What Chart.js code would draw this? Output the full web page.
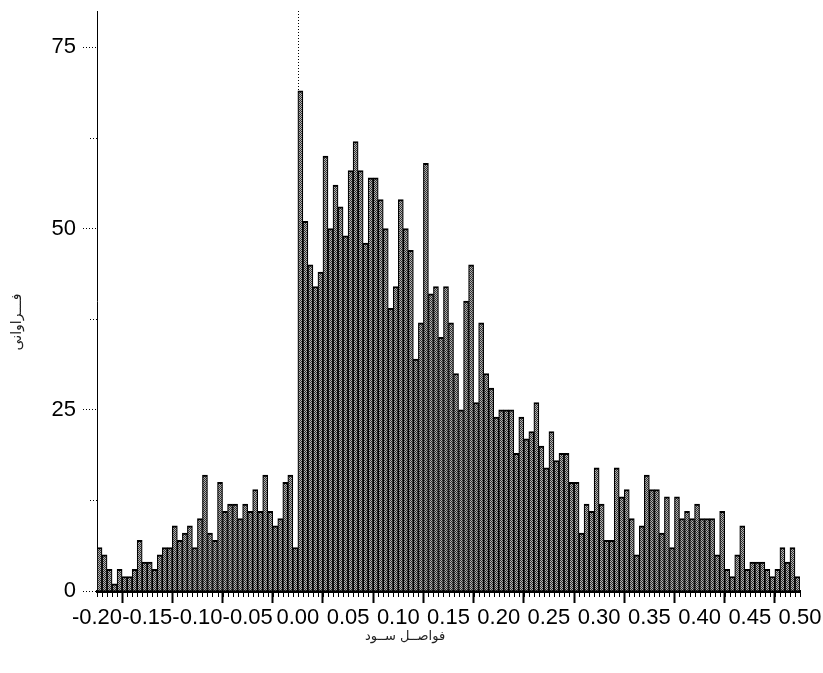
<!DOCTYPE html>
<html>
<head>
<meta charset="utf-8">
<script src="https://cdn.jsdelivr.net/npm/chart.js@4.4.1/dist/chart.umd.min.js"></script>
<style>
  html, body { margin: 0; padding: 0; background: #fff; }
</style>
</head>
<body>
<canvas id="hist" width="823" height="673"></canvas>
<script>
// histogram bins: 0.005 wide, from -0.20 to 0.50
const binStart = -0.20;
const binWidth = 0.005;
const frequency = [
  6, 5, 3, 1, 3, 2, 2, 3, 7, 4, 4, 3, 5, 6, 6, 9, 7, 8, 9, 6,
  10, 16, 8, 7, 15, 11, 12, 12, 10, 12, 11, 14, 11, 16, 11, 9, 10, 15, 16, 6,
  69, 51, 45, 42, 44, 60, 50, 56, 53, 49, 58, 62, 58, 48, 57, 57, 54, 50, 39, 42, 54,
  50, 47, 32, 37, 59, 41, 42, 35, 42, 37, 30, 25, 40, 45, 26, 37, 30, 28, 24, 25, 25,
  25, 19, 24, 21, 22, 26, 20, 17, 22, 18, 19, 19, 15, 15, 8, 12, 11, 17, 12, 7, 7,
  17, 13, 14, 10, 5, 9, 16, 14, 14, 8, 13, 6, 13, 10, 11, 10, 12, 10, 10, 10,
  5, 11, 3, 2, 5, 9, 3, 4, 4, 4, 3, 2, 3, 6, 4, 6, 2
];
const xTickLabels = ['-0.20', '-0.15', '-0.10', '-0.05', '0.00', '0.05', '0.10', '0.15',
  '0.20', '0.25', '0.30', '0.35', '0.40', '0.45', '0.50'];
const yTickLabels = ['0', '25', '50', '75'];
const yMinorTicks = [12.5, 37.5, 62.5];
const xTitle = 'فواصــل ســود';
const yTitle = 'فـــراوانی';

const tickFont = { family: "'Liberation Sans', Arial, sans-serif", size: 22 };

function stipple() {
  let c = document.createElement('canvas');
  c.width = 2; c.height = 2;
  let g = c.getContext('2d');
  g.fillStyle = '#b4b4b4';
  g.fillRect(0, 0, 2, 2);
  g.fillStyle = '#303030';
  g.fillRect(0, 0, 1, 1);
  g.fillRect(1, 1, 1, 1);
  return g.createPattern(c, 'repeat');
}

let points = frequency.map((f, i) => ({ x: binStart + (i + 0.5) * binWidth, y: f }));

// dotted line at zero, behind the bars
let zeroLine = {
  id: 'zeroLine',
  beforeDatasetsDraw(chart) {
    let { ctx, chartArea, scales } = chart;
    let px = Math.round(scales.x.getPixelForValue(0)) + 0.5;
    ctx.save();
    ctx.strokeStyle = '#000';
    ctx.lineWidth = 1;
    ctx.setLineDash([1, 2]);
    ctx.beginPath();
    ctx.moveTo(px, chartArea.top);
    ctx.lineTo(px, chartArea.bottom);
    ctx.stroke();
    ctx.restore();
  }
};

// small ticks: one per bin on x, halfway ticks on y
let minorTicks = {
  id: 'minorTicks',
  afterDraw(chart) {
    let { ctx, scales } = chart;
    let x = scales.x, y = scales.y;
    ctx.save();
    ctx.strokeStyle = '#000';
    ctx.lineWidth = 1;
    for (let i = 0; i <= frequency.length; i++) {
      let px = Math.round(x.getPixelForValue(binStart + i * binWidth)) + 0.5;
      ctx.beginPath();
      ctx.moveTo(px, y.bottom);
      ctx.lineTo(px, y.bottom + 6);
      ctx.stroke();
    }
    ctx.setLineDash([1, 2]);
    yMinorTicks.forEach(v => {
      let py = Math.round(y.getPixelForValue(v)) + 0.5;
      ctx.beginPath();
      ctx.moveTo(x.left - 7, py);
      ctx.lineTo(x.left, py);
      ctx.stroke();
    });
    ctx.restore();
  }
};

let axisTitles = {
  id: 'axisTitles',
  afterDraw(chart) {
    let ctx = chart.ctx;
    ctx.save();
    ctx.fillStyle = '#222';
    ctx.font = "13px 'DejaVu Sans', sans-serif";
    ctx.textAlign = 'center';
    ctx.textBaseline = 'middle';
    ctx.fillText(xTitle, 405, 637);
    ctx.font = "14px 'DejaVu Sans', sans-serif";
    ctx.translate(17, 322);
    ctx.rotate(-Math.PI / 2);
    ctx.fillText(yTitle, 0, 0);
    ctx.restore();
  }
};

let hist_chart = new Chart(document.getElementById('hist'), {
  type: 'bar',
  data: {
    datasets: [{
      data: points,
      backgroundColor: stipple(),
      borderColor: '#000',
      borderWidth: { top: 2, left: 1.2, right: 1.2, bottom: 0 },
      borderSkipped: false,
      barPercentage: 1,
      categoryPercentage: 1
    }]
  },
  options: {
    responsive: false,
    animation: false,
    layout: { padding: { top: 11, right: 23, left: 0, bottom: 0 } },
    plugins: { legend: { display: false }, tooltip: { enabled: false } },
    scales: {
      x: {
        type: 'linear',
        min: -0.2,
        max: 0.5,
        offset: false,
        z: 1,
        border: { color: '#000', width: 3 },
        grid: { drawOnChartArea: false, tickLength: 12, tickWidth: 2, tickColor: '#000' },
        ticks: {
          stepSize: 0.05,
          autoSkip: false,
          maxRotation: 0,
          padding: 2,
          color: '#000',
          font: tickFont,
          callback: (v, i) => xTickLabels[i]
        },
        afterFit: s => { s.height = 82; s.paddingLeft = 0; s.paddingRight = 0; }
      },
      y: {
        min: 0,
        max: 80,
        border: { color: '#000', width: 1, dash: [1, 2] },
        grid: { drawOnChartArea: false, tickLength: 14, tickColor: '#000', tickBorderDash: [1, 2] },
        ticks: {
          stepSize: 25,
          includeBounds: false,
          padding: 7,
          color: '#000',
          font: tickFont,
          callback: (v, i) => yTickLabels[i]
        },
        afterFit: s => { s.width = 97; s.paddingTop = 0; s.paddingBottom = 0; }
      }
    }
  },
  plugins: [zeroLine, minorTicks, axisTitles]
});
</script>
</body>
</html>
